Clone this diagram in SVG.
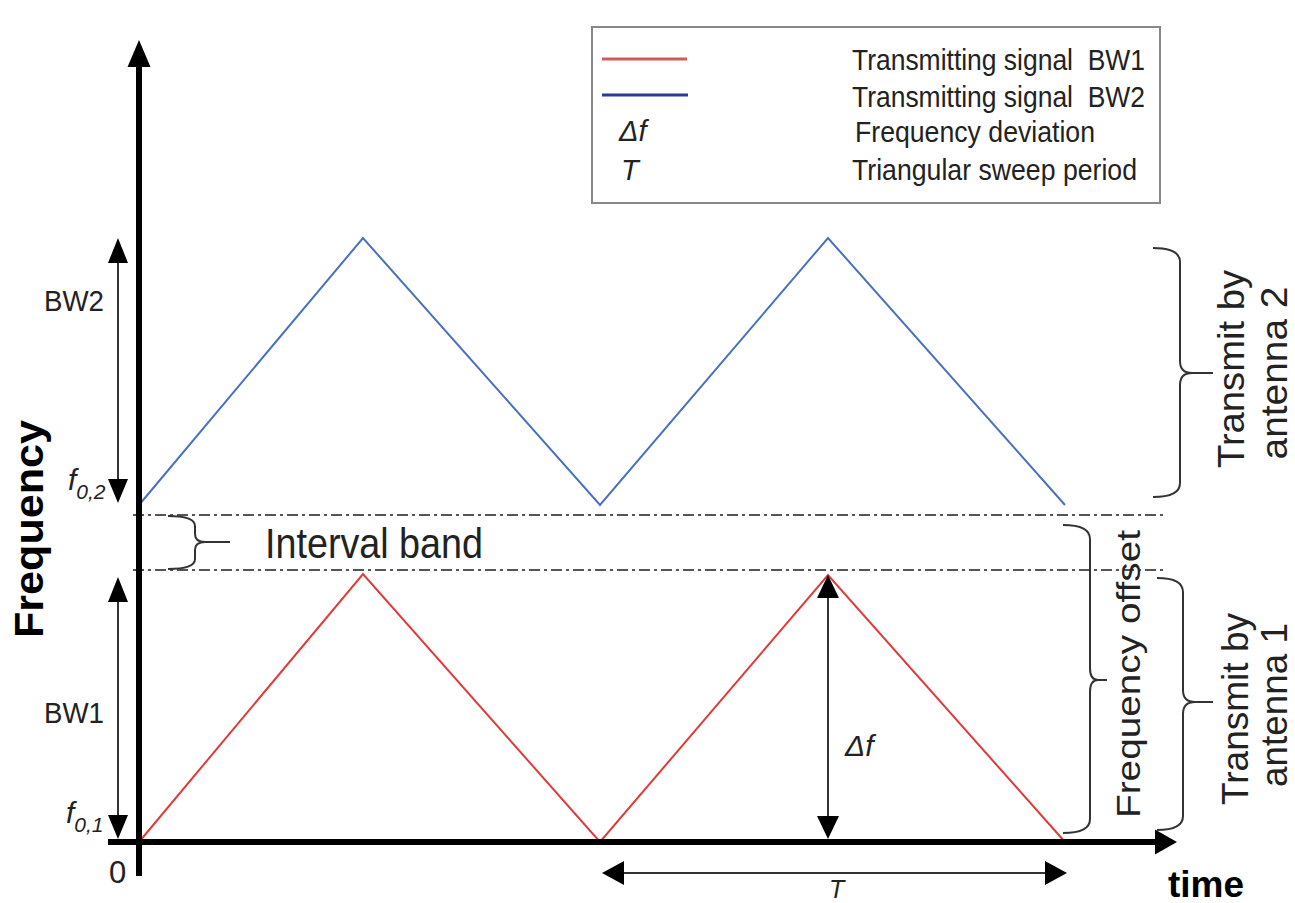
<svg xmlns="http://www.w3.org/2000/svg" width="1295" height="903" viewBox="0 0 1295 903">
<style>
text{font-family:"Liberation Sans",Arial,sans-serif;fill:#222}
.it{font-style:italic}
.bold{font-weight:bold;fill:#000}
.axis{stroke:#000;stroke-width:6;fill:none}
.thin{stroke:#333;stroke-width:2;fill:none}
.head{fill:#000;stroke:none}
.dd{stroke:#555;stroke-width:2;stroke-dasharray:11 4 3 4;fill:none}
.brace{stroke:#333;stroke-width:2;fill:none}
.red{stroke:#e03a3a;stroke-width:2;fill:none}
.blue{stroke:#4a70c0;stroke-width:2;fill:none}
</style>
<rect width="1295" height="903" fill="#fff"/>
<g id="legend">
<rect x="592" y="27" width="568" height="176" fill="#fff" stroke="#888" stroke-width="2"/>
<line x1="602" y1="59" x2="687" y2="59" stroke="#d45a5a" stroke-width="3"/>
<line x1="602" y1="95" x2="688" y2="95" stroke="#2a3d8f" stroke-width="3"/>
<text x="619" y="141" font-size="29" class="it">Δf</text>
<text x="621" y="180" font-size="29" class="it">T</text>
<text x="852" y="70" font-size="29" textLength="293" lengthAdjust="spacingAndGlyphs" xml:space="preserve">Transmitting signal  BW1</text>
<text x="852" y="107" font-size="29" textLength="293" lengthAdjust="spacingAndGlyphs" xml:space="preserve">Transmitting signal  BW2</text>
<text x="855" y="142" font-size="29" textLength="240" lengthAdjust="spacingAndGlyphs">Frequency deviation</text>
<text x="852" y="180" font-size="29" textLength="285" lengthAdjust="spacingAndGlyphs">Triangular sweep period</text>
</g>
<g id="signals">
<polyline class="blue" points="139,505 363,238 600,505 828,238 1065,505"/>
<polyline class="red" points="139,842 363,574 600,842 828,575 1065,842"/>
</g>
<g id="guides">
<line class="dd" x1="133" y1="515" x2="1165" y2="515"/>
<line class="dd" x1="133" y1="570" x2="1165" y2="570"/>
</g>
<g id="axes">
<line class="axis" x1="139" y1="62" x2="139" y2="876"/>
<polygon class="head" points="139,40 127.5,67 150.5,67"/>
<line class="axis" x1="108" y1="842" x2="1158" y2="842"/>
<polygon class="head" points="1177,842 1155,829.5 1155,854.5"/>
<text x="109" y="883" font-size="31">0</text>
<text x="1168" y="897" font-size="37" class="bold">time</text>
<text transform="translate(43,529) rotate(-90)" font-size="40" class="bold" text-anchor="middle" textLength="218" lengthAdjust="spacingAndGlyphs">Frequency</text>
</g>
<g id="connectors">
<g id="bw2-arrow">
<line class="thin" x1="118" y1="260" x2="118" y2="482"/>
<polygon class="head" points="118,238 108,263 128,263"/>
<polygon class="head" points="118,503 108,479 128,479"/>
</g>
<g id="bw1-arrow">
<line class="thin" x1="118" y1="600" x2="118" y2="818"/>
<polygon class="head" points="118,577 108,602 128,602"/>
<polygon class="head" points="118,839 108,815 128,815"/>
</g>
<g id="df-arrow">
<line class="thin" x1="828" y1="596" x2="828" y2="818"/>
<polygon class="head" points="828,575 817,598 839,598"/>
<polygon class="head" points="828,839 817,816 839,816"/>
</g>
<g id="t-arrow">
<line class="thin" x1="622" y1="873" x2="1047" y2="873"/>
<polygon class="head" points="602,873 624,861 624,885"/>
<polygon class="head" points="1067,873 1045,861 1045,885"/>
</g>
</g>
<g id="labels">
<text x="44" y="311" font-size="30" textLength="60" lengthAdjust="spacingAndGlyphs">BW2</text>
<text x="44" y="723" font-size="30" textLength="60" lengthAdjust="spacingAndGlyphs">BW1</text>
<text x="68" y="490" font-size="30" class="it">f<tspan font-size="21" dy="9">0,2</tspan></text>
<text x="66" y="823" font-size="30" class="it">f<tspan font-size="21" dy="9">0,1</tspan></text>
<text x="845" y="756" font-size="30" class="it">Δf</text>
<text x="829" y="898" font-size="25" class="it">T</text>
</g>
<g id="interval-band">
<path class="brace" d="M168,516 Q195,516 195,526 L195,534 Q195,542 205,542 L230,542 M205,542 Q195,542 195,550 L195,559 Q195,569 168,569"/>
<text x="265" y="558" font-size="42" textLength="218" lengthAdjust="spacingAndGlyphs">Interval band</text>
</g>
<g id="antenna2">
<path class="brace" d="M1153,248 Q1180,248 1180,262 L1180,361 Q1180,373 1192,373 L1213,373 M1192,373 Q1180,373 1180,385 L1180,483 Q1180,497 1153,497"/>
<text transform="translate(1244,369) rotate(-90)" font-size="37" text-anchor="middle" textLength="198" lengthAdjust="spacingAndGlyphs">Transmit by</text>
<text transform="translate(1287,373) rotate(-90)" font-size="37" text-anchor="middle" textLength="173" lengthAdjust="spacingAndGlyphs">antenna 2</text>
</g>
<g id="freq-offset">
<path class="brace" d="M1063,525 Q1090,525 1090,539 L1090,668 Q1090,680 1098,680 L1107,680 M1098,680 Q1090,680 1090,692 L1090,819 Q1090,833 1063,833"/>
<text transform="translate(1140,674) rotate(-90)" font-size="33" text-anchor="middle" textLength="288" lengthAdjust="spacingAndGlyphs">Frequency offset</text>
</g>
<g id="antenna1">
<path class="brace" d="M1157,578 Q1183,578 1183,592 L1183,690 Q1183,702 1195,702 L1213,702 M1195,702 Q1183,702 1183,714 L1183,816 Q1183,830 1157,830"/>
<text transform="translate(1248,709) rotate(-90)" font-size="37" text-anchor="middle" textLength="192" lengthAdjust="spacingAndGlyphs">Transmit by</text>
<text transform="translate(1287,705) rotate(-90)" font-size="37" text-anchor="middle" textLength="164" lengthAdjust="spacingAndGlyphs">antenna 1</text>
</g>
</svg>
